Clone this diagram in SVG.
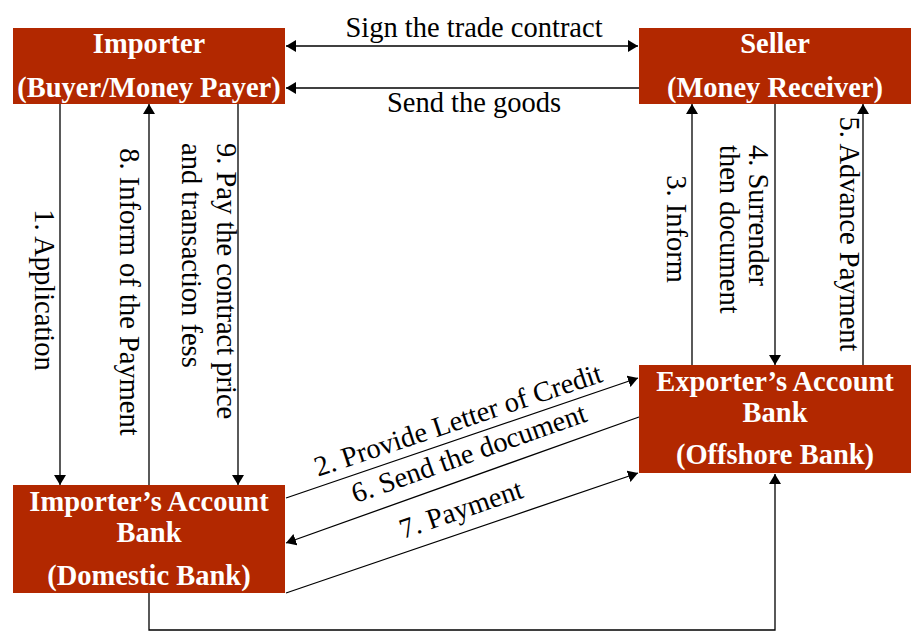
<svg xmlns="http://www.w3.org/2000/svg" width="922" height="632" viewBox="0 0 922 632">
<defs>
<marker id="ah" viewBox="0 0 10 12" refX="10" refY="6" markerWidth="10" markerHeight="12" markerUnits="userSpaceOnUse" orient="auto-start-reverse">
<path d="M0,0 L10,6 L0,12 z" fill="#000"/>
</marker>
<style>
.box{fill:#B22800;}
.t{font-family:"Liberation Serif","Times New Roman",serif;font-size:28.5px;font-weight:bold;fill:#fff;text-anchor:middle;}
.l{font-family:"Liberation Serif","Times New Roman",serif;font-size:28.5px;fill:#000;}
.m{text-anchor:middle;}
.c{fill:none;stroke:#000;stroke-width:1.3;}
.a{marker-end:url(#ah);}
.b{marker-start:url(#ah);marker-end:url(#ah);}
</style>
</defs>
<rect width="922" height="632" fill="#fff"/>
<g id="connectors">
<line class="c b" x1="286" y1="46" x2="638" y2="46"/>
<line class="c a" x1="639" y1="88" x2="286" y2="88"/>
<line class="c a" x1="60" y1="104" x2="60" y2="485"/>
<line class="c a" x1="149" y1="485" x2="149" y2="104"/>
<line class="c a" x1="238" y1="104" x2="238" y2="485"/>
<line class="c a" x1="692" y1="365" x2="692" y2="104"/>
<line class="c a" x1="775" y1="104" x2="775" y2="365"/>
<line class="c a" x1="863" y1="365" x2="863" y2="104"/>
<line class="c a" x1="286" y1="498" x2="638" y2="378"/>
<line class="c a" x1="639" y1="417" x2="286" y2="543"/>
<line class="c a" x1="286" y1="593" x2="638" y2="473"/>
<polyline class="c a" points="149,593 149,630 775,630 775,474"/>
<text class="l m" x="474" y="37">Sign the trade contract</text>
<text class="l m" x="474" y="112">Send the goods</text>
<text class="l m" transform="translate(35,290) rotate(90)">1. Application</text>
<text class="l m" transform="translate(120,292) rotate(90)">8. Inform of the Payment</text>
<text class="l" transform="translate(217,143) rotate(90)"><tspan x="0" y="0">9. Pay the contract price</tspan><tspan x="0" y="35">and transaction fess</tspan></text>
<text class="l m" transform="translate(667,229) rotate(90)">3. Inform</text>
<text class="l" transform="translate(749,145) rotate(90)"><tspan x="0" y="0">4. Surrender</tspan><tspan x="0" y="29">then document</tspan></text>
<text class="l m" transform="translate(840,234) rotate(90)">5. Advance Payment</text>
<text class="l m" transform="translate(461,429) rotate(-18.5)">2. Provide Letter of Credit</text>
<text class="l m" transform="translate(472,462) rotate(-19.5)">6. Send the document</text>
<text class="l m" transform="translate(464,518) rotate(-19)">7. Payment</text>
</g>
<g id="importer">
<rect class="box" x="13" y="28" width="272" height="76"/>
<text class="t" x="149" y="53">Importer</text>
<text class="t" x="149" y="97">(Buyer/Money Payer)</text>
</g>
<g id="seller">
<rect class="box" x="639" y="28" width="272" height="76"/>
<text class="t" x="775" y="53">Seller</text>
<text class="t" x="775" y="97">(Money Receiver)</text>
</g>
<g id="importer-bank">
<rect class="box" x="13" y="485" width="272" height="108"/>
<text class="t" x="149" y="511">Importer’s Account</text>
<text class="t" x="149" y="542">Bank</text>
<text class="t" x="149" y="585">(Domestic Bank)</text>
</g>
<g id="exporter-bank">
<rect class="box" x="639" y="365" width="272" height="108"/>
<text class="t" x="775" y="391">Exporter’s Account</text>
<text class="t" x="775" y="422">Bank</text>
<text class="t" x="775" y="464">(Offshore Bank)</text>
</g>
</svg>
